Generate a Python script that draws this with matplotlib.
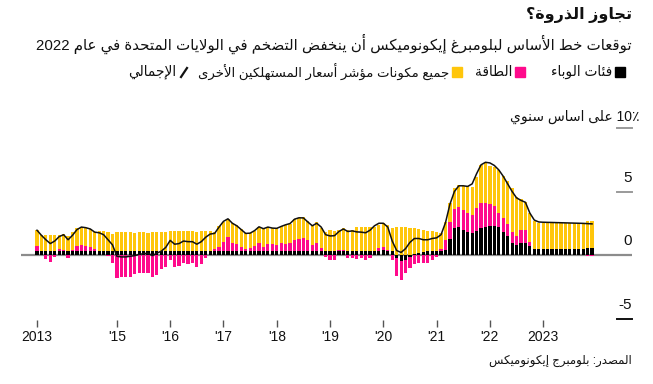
import re

import numpy as np
import matplotlib
matplotlib.use('Agg')
import matplotlib.pyplot as plt
from matplotlib.patches import Rectangle
from matplotlib.lines import Line2D

# %%
# Colours
C_PANDEMIC = '#000000'
C_ENERGY = '#ff0a8c'
C_OTHER = '#ffc60b'

# %%
# Monthly contributions to US CPI, y/y %, Jul 2013 - Dec 2023
pandemic = [
    0.34, 0.34, 0.32, 0.32, 0.34, 0.34,
    0.34, 0.30, 0.34, 0.34, 0.34, 0.34, 0.34, 0.34, 0.34, 0.32, 0.32, 0.32,
    0.34, 0.34, 0.34, 0.34, 0.34, 0.34, 0.34, 0.34, 0.34, 0.34, 0.34, 0.34,
    0.34, 0.34, 0.34, 0.34, 0.34, 0.34, 0.34, 0.34, 0.34, 0.34, 0.34, 0.34,
    0.34, 0.34, 0.34, 0.34, 0.34, 0.34, 0.34, 0.34, 0.34, 0.34, 0.34, 0.34,
    0.34, 0.34, 0.34, 0.34, 0.34, 0.34, 0.34, 0.34, 0.34, 0.34, 0.34, 0.34,
    0.34, 0.34, 0.34, 0.34, 0.34, 0.34, 0.34, 0.34, 0.34, 0.34, 0.34, 0.34,
    0.36, 0.32, 0.30, -0.25, -0.50, -0.40, -0.15, 0.05, 0.15, 0.25, 0.30, 0.30,
    0.30, 0.30, 0.40, 1.24, 2.10, 2.18, 1.97, 1.84, 1.71, 1.92, 2.10, 2.18,
    2.29, 2.29, 2.18, 1.84, 1.50, 0.92, 0.79, 0.97, 0.97, 0.71, 0.47, 0.47,
    0.47, 0.47, 0.47, 0.47, 0.47, 0.47, 0.47, 0.47, 0.47, 0.47, 0.55, 0.55,
]
energy = [
    0.40, 0.00, -0.34, -0.58, -0.18, 0.10,
    0.05, -0.20, 0.05, 0.40, 0.45, 0.40, 0.32, 0.10, 0.00, 0.00, -0.10, -0.60,
    -1.84, -1.70, -1.70, -1.76, -1.52, -1.45, -1.45, -1.45, -1.70, -1.58, -1.13, -0.97,
    -0.40, -0.97, -0.87, -0.66, -0.74, -0.66, -0.92, -0.74, -0.21, 0.00, 0.10, 0.32,
    0.70, 1.05, 0.63, 0.53, 0.32, 0.11, 0.20, 0.37, 0.63, 0.32, 0.50, 0.50,
    0.45, 0.63, 0.50, 0.63, 0.84, 0.90, 0.97, 0.84, 0.45, 0.63, 0.20, -0.15,
    -0.40, -0.40, 0.05, 0.05, -0.26, -0.26, -0.34, -0.26, -0.40, -0.20, 0.00, 0.20,
    0.30, 0.10, -0.40, -1.40, -1.47, -1.05, -0.90, -0.70, -0.60, -0.60, -0.60, -0.40,
    -0.18, 0.15, 0.78, 1.36, 1.50, 1.58, 1.58, 1.50, 1.45, 1.76, 2.03, 1.95,
    1.74, 1.53, 1.16, 1.06, 0.95, 0.92, 0.71, 1.00, 1.00, 0.34, 0.00, 0.00,
    -0.02, -0.02, -0.02, -0.02, -0.02, -0.02, -0.02, -0.02, -0.02, -0.02, -0.05, -0.05,
]
# top of the positive part of each bar
bar_top = [
    1.97, 1.58, 1.58, 1.58, 1.58, 1.55,
    1.66, 1.50, 1.84, 2.16, 2.24, 2.10, 2.05, 1.84, 1.87, 1.87, 1.84, 1.65,
    1.79, 1.79, 1.79, 1.79, 1.75, 1.79, 1.79, 1.72, 1.82, 1.79, 1.79, 1.79,
    1.90, 1.92, 1.92, 1.92, 1.92, 1.88, 1.85, 1.92, 1.90, 1.88, 1.85, 2.29,
    2.63, 2.84, 2.55, 2.37, 2.03, 1.76, 1.76, 1.92, 2.24, 2.10, 2.24, 2.16,
    2.16, 2.29, 2.37, 2.45, 2.82, 2.89, 2.97, 2.71, 2.37, 2.63, 2.10, 1.85,
    1.97, 1.90, 1.97, 2.10, 1.97, 2.00, 2.18, 2.18, 2.18, 2.18, 2.24, 2.37,
    2.55, 2.37, 2.10, 2.18, 2.24, 2.18, 2.16, 2.10, 2.03, 1.97, 1.92, 1.90,
    1.84, 1.75, 2.63, 4.08, 5.26, 5.53, 5.45, 5.40, 5.34, 6.18, 7.10, 7.24,
    7.03, 6.92, 6.66, 6.24, 5.79, 5.26, 4.60, 4.39, 4.20, 3.34, 2.71, 2.55,
    2.52, 2.52, 2.52, 2.52, 2.52, 2.52, 2.52, 2.52, 2.52, 2.52, 2.65, 2.65,
]
headline = [
    1.95, 1.55, 1.20, 0.90, 1.10, 1.45,
    1.60, 1.20, 1.55, 2.00, 2.20, 2.15, 2.05, 1.80, 1.75, 1.60, 1.20, 0.80,
    -0.10, -0.15, -0.15, -0.10, -0.05, 0.05, 0.10, 0.15, -0.05, 0.15, 0.30, 0.60,
    1.15, 0.85, 0.90, 1.10, 1.05, 1.05, 0.85, 1.05, 1.40, 1.65, 1.70, 2.20,
    2.65, 2.85, 2.50, 2.30, 2.00, 1.70, 1.72, 1.92, 2.22, 2.07, 2.20, 2.12,
    2.10, 2.25, 2.38, 2.48, 2.82, 2.93, 2.92, 2.60, 2.30, 2.50, 2.20, 1.60,
    1.50, 1.52, 1.85, 2.05, 1.85, 1.90, 1.82, 1.80, 1.75, 1.95, 2.30, 2.50,
    2.50, 2.20, 1.10, 0.35, 0.20, 0.50, 1.00, 1.30, 1.30, 1.20, 1.20, 1.30,
    1.35, 1.60, 2.55, 4.00, 5.00, 5.45, 5.45, 5.40, 5.60, 6.40, 7.10, 7.30,
    7.25, 7.05, 6.70, 6.20, 5.60, 5.00, 4.50, 4.30, 4.15, 3.30, 2.75, 2.60,
    2.58, 2.57, 2.56, 2.55, 2.54, 2.53, 2.52, 2.51, 2.50, 2.49, 2.47, 2.45,
]

tick_months = [0, 18, 30, 42, 54, 66, 78, 90, 102, 114]
tick_labels = ['2013', "'15", "'16", "'17", "'18", "'19", "'20", "'21", "'22", '2023']

TITLE = 'تجاوز الذروة؟'
SUBTITLE = 'توقعات خط الأساس لبلومبرغ إيكونوميكس أن ينخفض التضخم في الولايات المتحدة في عام 2022'
LEG_PANDEMIC = 'فئات الوباء'
LEG_ENERGY = 'الطاقة'
LEG_OTHER = 'جميع مكونات مؤشر أسعار المستهلكين الأخرى'
LEG_TOTAL = 'الإجمالي'
UNIT = '10٪ على اساس سنوي'
SOURCE = 'المصدر: بلومبرج إيكونوميكس'

# %%
# matplotlib has no Arabic shaping / bidi, so do it by hand with presentation forms
FORMS = {
    'ء': (0xFE80, 1), 'آ': (0xFE81, 2), 'أ': (0xFE83, 2), 'ؤ': (0xFE85, 2),
    'إ': (0xFE87, 2), 'ئ': (0xFE89, 4), 'ا': (0xFE8D, 2), 'ب': (0xFE8F, 4),
    'ة': (0xFE93, 2), 'ت': (0xFE95, 4), 'ث': (0xFE99, 4), 'ج': (0xFE9D, 4),
    'ح': (0xFEA1, 4), 'خ': (0xFEA5, 4), 'د': (0xFEA9, 2), 'ذ': (0xFEAB, 2),
    'ر': (0xFEAD, 2), 'ز': (0xFEAF, 2), 'س': (0xFEB1, 4), 'ش': (0xFEB5, 4),
    'ص': (0xFEB9, 4), 'ض': (0xFEBD, 4), 'ط': (0xFEC1, 4), 'ظ': (0xFEC5, 4),
    'ع': (0xFEC9, 4), 'غ': (0xFECD, 4), 'ف': (0xFED1, 4), 'ق': (0xFED5, 4),
    'ك': (0xFED9, 4), 'ل': (0xFEDD, 4), 'م': (0xFEE1, 4), 'ن': (0xFEE5, 4),
    'ه': (0xFEE9, 4), 'و': (0xFEED, 2), 'ى': (0xFEEF, 2), 'ي': (0xFEF1, 4),
}
LAM_ALEF = {'آ': 0xFEF5, 'أ': 0xFEF7, 'إ': 0xFEF9, 'ا': 0xFEFB}


def shape(s):
    out = []
    i = 0
    while i < len(s):
        c = s[i]
        if c not in FORMS:
            out.append(c)
            i += 1
            continue
        prev = s[i - 1] if i > 0 else ''
        link_prev = prev in FORMS and FORMS[prev][1] == 4
        nxt = s[i + 1] if i + 1 < len(s) else ''
        if c == 'ل' and nxt in LAM_ALEF:
            out.append(chr(LAM_ALEF[nxt] + (1 if link_prev else 0)))
            i += 2
            continue
        base, nf = FORMS[c]
        link_next = nf == 4 and nxt in FORMS
        if nf == 1:
            form = 0
        elif link_prev and link_next:
            form = 3
        elif link_prev:
            form = 1
        elif link_next:
            form = 2
        else:
            form = 0
        out.append(chr(base + form))
        i += 1
    return ''.join(out)


def ar(text):
    runs = re.findall(r'[0-9٪%]+|[^0-9٪%]+', text)
    vis = []
    for r in reversed(runs):
        if r[0].isdigit() or r[0] in '٪%':
            vis.append(r)
        else:
            vis.append(shape(r)[::-1])
    return ''.join(vis)


# %%
W, H = 653, 384
FONT = ['Liberation Sans', 'DejaVu Sans']


def fx(x):
    return x / W


def fy(y):
    return 1 - y / H


fig = plt.figure(figsize=(W / 100, H / 100), dpi=100)
ax = fig.add_axes([fx(21), fy(320), fx(632) - fx(21), fy(128) - fy(320)])

x = np.arange(len(headline))
pandemic = np.array(pandemic)
energy = np.array(energy)
bar_top = np.array(bar_top)

b_pos = np.clip(pandemic, 0, None)
b_neg = np.clip(pandemic, None, 0)
e_pos = np.clip(energy, 0, None)
e_neg = np.clip(energy, None, 0)
other = bar_top - b_pos - e_pos

bw = 0.72
ax.axhline(0, color='#8c8c8c', lw=1.6, zorder=0.5)
ax.bar(x, b_pos, width=bw, color=C_PANDEMIC, lw=0, zorder=2)
ax.bar(x, e_pos, width=bw, bottom=b_pos, color=C_ENERGY, lw=0, zorder=2)
ax.bar(x, other, width=bw, bottom=b_pos + e_pos, color=C_OTHER, lw=0, zorder=2)
ax.bar(x, b_neg, width=bw, color=C_PANDEMIC, lw=0, zorder=2)
ax.bar(x, e_neg, width=bw, bottom=b_neg, color=C_ENERGY, lw=0, zorder=2)
ax.plot(x, headline, color='#111111', lw=1.1, zorder=3)

ax.set_xlim(-3.6, 134.0)
ax.set_ylim(10 - 192 / 12.7, 10)
for s in ax.spines.values():
    s.set_visible(False)
ax.set_yticks([])
ax.set_xticks(tick_months)
ax.set_xticklabels(tick_labels, fontsize=10, family=FONT, color='#111111')
ax.tick_params(axis='x', direction='out', length=5, width=1, color='#555555', pad=2)

# right-hand y ticks
ytr = ax.get_yaxis_transform()
for v, col in [(10, '#9a9a9a'), (5, '#9a9a9a'), (-5, '#111111')]:
    ax.plot([0.975, 1.0], [v, v], transform=ytr, color=col, lw=1.4, clip_on=False)
for v in [5, 0, -5]:
    ax.annotate(str(v), xy=(1.0, v), xycoords=ytr, xytext=(0, 5), textcoords='offset points',
                ha='right', va='bottom', fontsize=11, family=FONT, color='#111111')
fig.text(fx(640), fy(117), ar(UNIT), ha='right', va='center', fontsize=10, family=FONT, color='#111111')

# titles
fig.text(fx(632), fy(15), ar(TITLE), ha='right', va='center', fontsize=11.5, weight='bold',
         family=FONT, color='#111111')
fig.text(fx(632), fy(44), ar(SUBTITLE), ha='right', va='center', fontsize=10.8, family=FONT,
         color='#111111')

# legend row (right to left)
leg_y = 72
items = [(625, C_PANDEMIC, LEG_PANDEMIC, 9.9), (525, C_ENERGY, LEG_ENERGY, 9.9),
         (462, C_OTHER, LEG_OTHER, 9.5)]
for xr, col, lab, fs in items:
    fig.add_artist(Rectangle((fx(xr - 10), fy(leg_y + 5)), fx(10), 10 / H, color=col,
                             transform=fig.transFigure))
    fig.text(fx(xr - 13), fy(leg_y), ar(lab), ha='right', va='center', fontsize=fs,
             family=FONT, color='#111111')
fig.add_artist(Line2D([fx(181), fx(187)], [fy(77), fy(68)], color='#111111', lw=1.6,
                      transform=fig.transFigure))
fig.text(fx(176), fy(leg_y), ar(LEG_TOTAL), ha='right', va='center', fontsize=9.9,
         family=FONT, color='#111111')

fig.text(fx(632), fy(361), ar(SOURCE), ha='right', va='center', fontsize=8.5, family=FONT,
         color='#111111')

fig.savefig('out.png', dpi=100)
